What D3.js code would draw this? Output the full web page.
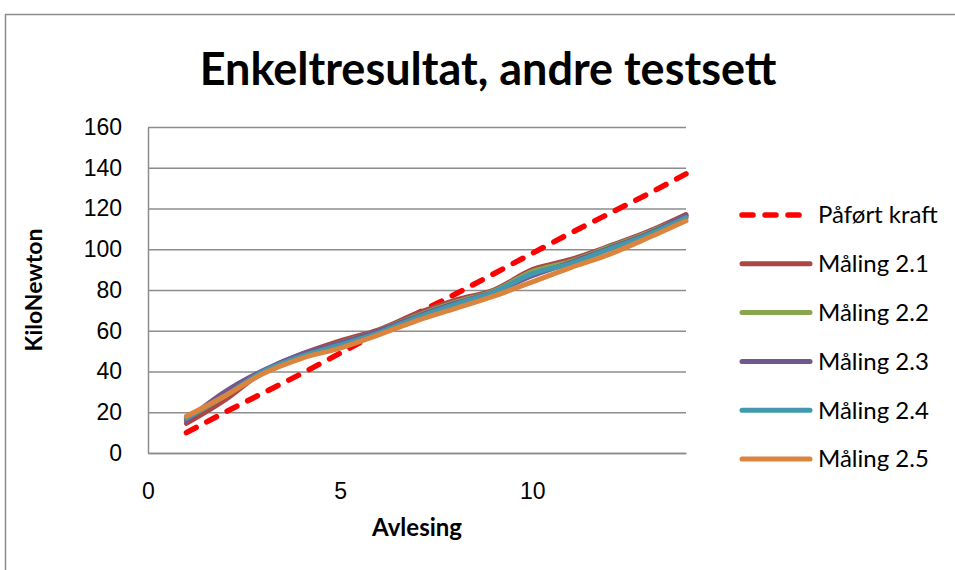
<!DOCTYPE html>
<html>
<head>
<meta charset="utf-8">
<script src="https://cdn.jsdelivr.net/npm/d3@7"></script>
<style>
  body { margin: 0; background: #fff; }
  svg { display: block; font-family: Lato, "Open Sans", sans-serif; }
</style>
</head>
<body>
<script>
// readings 1..14
var readings = [1, 2, 3, 4, 5, 6, 7, 8, 9, 10, 11, 12, 13, 14];
var applied = [10, 20, 29.5, 39, 49, 59, 68.5, 78, 88, 98, 108, 117.5, 127, 137];
var m21 = [14.5, 26, 40, 48.5, 55, 60.5, 68.5, 75, 80, 90, 95, 101.5, 108.5, 117];
var m22 = [17, 28, 40, 48, 54, 60, 67.5, 74, 79.5, 89, 94, 101, 108, 116];
var m23 = [16, 30, 40.5, 48.5, 54, 60, 67, 73.5, 79, 87, 93.5, 100.5, 107.5, 116.5];
var m24 = [17, 28, 40, 47.5, 53, 59, 66.5, 73, 79, 88, 93, 100, 107, 115.5];
var m25 = [18, 28, 39, 46.5, 51.5, 58, 65, 71, 77, 84, 91, 97.5, 105.5, 114];
var seriesNames = ["Påført kraft", "Måling 2.1", "Måling 2.2", "Måling 2.3", "Måling 2.4", "Måling 2.5"];
var seriesColors = ["#ff0000", "#aa4643", "#89a54e", "#71588f", "#4198af", "#db843d"];
var xTicks = [0, 5, 10];
var yTicks = [0, 20, 40, 60, 80, 100, 120, 140, 160];

var allSeries = [applied, m21, m22, m23, m24, m25];

var width = 955, height = 570;
var margin = {top: 127, right: 269, bottom: 117, left: 148};
var w = width - margin.left - margin.right;
var h = height - margin.top - margin.bottom;

var svg = d3.select("body").append("svg")
    .attr("width", width)
    .attr("height", height);

// chart frame
svg.append("rect")
    .attr("x", 5.5).attr("y", 14.5)
    .attr("width", 1000).attr("height", 1000)
    .attr("fill", "none")
    .attr("stroke", "#8c8c8c")
    .attr("stroke-width", 1.5);

svg.append("text")
    .attr("x", 488).attr("y", 85)
    .attr("text-anchor", "middle")
    .style("font-size", "45px")
    .style("font-weight", "bold")
    .text("Enkeltresultat, andre testsett");

var g = svg.append("g")
    .attr("transform", "translate(" + margin.left + "," + margin.top + ")");

var x = d3.scaleLinear().domain([0, 14]).range([0, w]);
var y = d3.scaleLinear().domain([0, 160]).range([h, 0]);

// gridlines
g.append("g")
    .call(d3.axisLeft(y).tickValues(yTicks).tickSize(-w).tickFormat(""))
    .call(function(a) {
        a.select(".domain").remove();
        a.selectAll("line").attr("stroke", "#8c8c8c").attr("stroke-width", 1.5);
    });

var yAxis = g.append("g")
    .call(d3.axisLeft(y).tickValues(yTicks).tickSize(0).tickPadding(26));
yAxis.select(".domain").attr("stroke", "#8c8c8c").attr("stroke-width", 1.5);
yAxis.selectAll("text").style("font-size", "23px").attr("fill", "#000");

var xAxis = g.append("g")
    .attr("transform", "translate(0," + h + ")")
    .call(d3.axisBottom(x).tickValues(xTicks).tickSize(0).tickPadding(30));
xAxis.select(".domain").attr("stroke", "#8c8c8c").attr("stroke-width", 1.5);
xAxis.selectAll("text").style("font-size", "23px").attr("fill", "#000");

svg.append("text")
    .attr("transform", "translate(42," + (margin.top + h / 2) + ") rotate(-90)")
    .attr("text-anchor", "middle")
    .style("font-size", "23px")
    .style("font-weight", "bold")
    .text("KiloNewton");

svg.append("text")
    .attr("x", 417).attr("y", 536)
    .attr("text-anchor", "middle")
    .style("font-size", "24px")
    .style("font-weight", "bold")
    .text("Avlesing");

var line = d3.line()
    .x(function(d, i) { return x(readings[i]); })
    .y(function(d) { return y(d); })
    .curve(d3.curveCardinal);

allSeries.forEach(function(s, i) {
    var p = g.append("path")
        .datum(s)
        .attr("d", line)
        .attr("fill", "none")
        .attr("stroke", seriesColors[i])
        .attr("stroke-linecap", "round")
        .attr("stroke-linejoin", "round");
    if (i === 0) {
        p.attr("stroke-width", 5.5).attr("stroke-dasharray", "11,12").attr("d", d3.line()
            .x(function(d, j) { return x(readings[j]); })
            .y(function(d) { return y(d); }));
    } else {
        p.attr("stroke-width", 5);
    }
});

// legend
var legend = svg.append("g");
seriesNames.forEach(function(name, i) {
    var ly = 215 + i * 48.8;
    var ln = legend.append("line")
        .attr("x1", 742).attr("x2", i === 0 ? 802 : 810)
        .attr("y1", ly).attr("y2", ly)
        .attr("stroke", seriesColors[i])
        .attr("stroke-linecap", "round");
    if (i === 0) ln.attr("stroke-width", 5.5).attr("stroke-dasharray", "11,12");
    else ln.attr("stroke-width", 5);
    legend.append("text")
        .attr("x", 818).attr("y", ly)
        .attr("dy", "0.35em")
        .style("font-size", "24px")
        .text(name);
});
</script>
</body>
</html>
